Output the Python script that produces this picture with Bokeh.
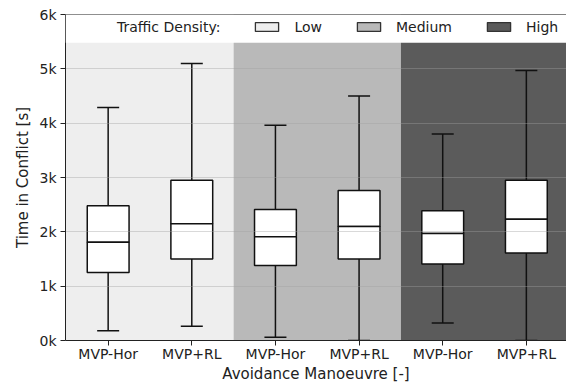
import pandas as pd
from bokeh.plotting import figure
from bokeh.models import (ColumnDataSource, Range1d, FixedTicker, Legend,
                          LegendItem, BoxAnnotation, Span)
from bokeh.embed import file_html
from bokeh.resources import INLINE

# Traffic density groups and their background shades
densities = ["Low", "Medium", "High"]
density_colors = ["#eeeeee", "#b9b9b9", "#5b5b5b"]
manoeuvres = ["MVP-Hor", "MVP+RL"]

# Box statistics for each (density, manoeuvre) pair, in seconds
whisker_low = [180, 260, 60, 0, 320, 0]
q1 = [1250, 1500, 1380, 1500, 1410, 1610]
median = [1810, 2150, 1910, 2100, 1970, 2230]
q3 = [2480, 2950, 2410, 2760, 2390, 2950]
whisker_high = [4290, 5100, 3960, 4500, 3800, 4970]

y_ticks = [0, 1000, 2000, 3000, 4000, 5000, 6000]
y_tick_labels = ["0k", "1k", "2k", "3k", "4k", "5k", "6k"]

FONT = "DejaVu Sans"
INK = "#222222"
NAN = float("nan")

labels = [m for _ in densities for m in manoeuvres]
positions = list(range(len(labels)))

boxes = ColumnDataSource(pd.DataFrame({
    "x": positions, "lo": whisker_low, "q1": q1, "med": median,
    "q3": q3, "hi": whisker_high,
}))

n_per_group = len(manoeuvres)
band_left = [i * n_per_group - 0.5 for i in range(len(densities))]
band_right = [i * n_per_group + n_per_group - 0.5 for i in range(len(densities))]
band_left[0] -= 0.2
band_right[-1] += 0.2
bands = ColumnDataSource(dict(left=band_left, right=band_right,
                              color=density_colors))

p = figure(width=566, height=385, output_backend="svg", toolbar_location=None,
           x_range=Range1d(-0.51, 5.48), y_range=Range1d(0, 6000),
           min_border_left=65, min_border_right=0, min_border_top=14,
           min_border_bottom=45, outline_line_color=None,
           background_fill_color="white", border_fill_color="white")

# density background bands
p.quad(left="left", right="right", top=6000, bottom=0, fill_color="color",
       line_color=None, source=bands, level="underlay")

# whiskers, caps and boxes
p.segment(x0="x", y0="q3", x1="x", y1="hi", line_color="#111111",
          line_width=1.5, source=boxes)
p.segment(x0="x", y0="lo", x1="x", y1="q1", line_color="#111111",
          line_width=1.5, source=boxes)
p.scatter(x="x", y="hi", marker="dash", size=22, line_color="#111111",
          line_width=1.5, source=boxes)
p.scatter(x="x", y="lo", marker="dash", size=22, line_color="#111111",
          line_width=1.5, source=boxes)
p.vbar(x="x", width=0.5, top="q3", bottom="med", fill_color="white",
       line_color="#111111", line_width=1.5, source=boxes)
p.vbar(x="x", width=0.5, top="med", bottom="q1", fill_color="white",
       line_color="#111111", line_width=1.5, source=boxes)

# grid between the bands and the boxes
p.xgrid.visible = False
p.ygrid.grid_line_color = "#a0a0a0"
p.ygrid.grid_line_alpha = 0.4
p.ygrid.level = "glyph"

# axes
p.xaxis.ticker = FixedTicker(ticks=positions)
p.xaxis.major_label_overrides = {i: lab for i, lab in zip(positions, labels)}
p.yaxis.ticker = FixedTicker(ticks=y_ticks)
p.yaxis.major_label_overrides = {t: lab for t, lab in zip(y_ticks, y_tick_labels)}
p.xaxis.axis_label = "Avoidance Manoeuvre [-]"
p.yaxis.axis_label = "Time in Conflict [s]"
for ax in (p.xaxis, p.yaxis):
    ax.axis_line_color = INK
    ax.major_tick_line_color = INK
    ax.minor_tick_line_color = None
    ax.major_tick_out = 5
    ax.major_tick_in = 0
    ax.major_label_text_font = FONT
    ax.major_label_text_font_size = "14px"
    ax.major_label_text_color = INK
    ax.major_label_text_line_height = 1.0
    ax.axis_label_text_font = FONT
    ax.axis_label_text_font_size = "15px"
    ax.axis_label_text_font_style = "normal"
    ax.axis_label_text_color = INK
    ax.axis_label_text_line_height = 1.0
p.yaxis.major_label_standoff = 4
p.yaxis.axis_label_standoff = 4
p.xaxis.major_label_standoff = 0
p.xaxis.axis_label_standoff = 0

# legend strip along the top
p.add_layout(BoxAnnotation(bottom=5480, top=6000, fill_color="white",
                           fill_alpha=1, line_color=None))
p.add_layout(Span(location=6000, dimension="width", line_color=INK,
                  line_width=1))

title_r = p.quad(left=[NAN], right=[NAN], top=[NAN], bottom=[NAN],
                 fill_alpha=0, line_alpha=0)
swatches = [p.quad(left=[NAN], right=[NAN], top=[NAN], bottom=[NAN],
                   fill_color=c, line_color="#333333", line_width=1.3)
            for c in density_colors]
items = [LegendItem(label="Traffic Density:", renderers=[title_r])]
items += [LegendItem(label=d, renderers=[r]) for d, r in zip(densities, swatches)]
legend = Legend(items=items, orientation="horizontal", location=(10, 305),
                glyph_width=29, glyph_height=11, label_standoff=13,
                spacing=32, padding=0, margin=0, label_height=17,
                border_line_color=None, background_fill_alpha=0,
                label_text_font=FONT, label_text_font_size="14px",
                label_text_color=INK)
p.add_layout(legend)

open("out.html", "w").write(file_html(p, INLINE))
